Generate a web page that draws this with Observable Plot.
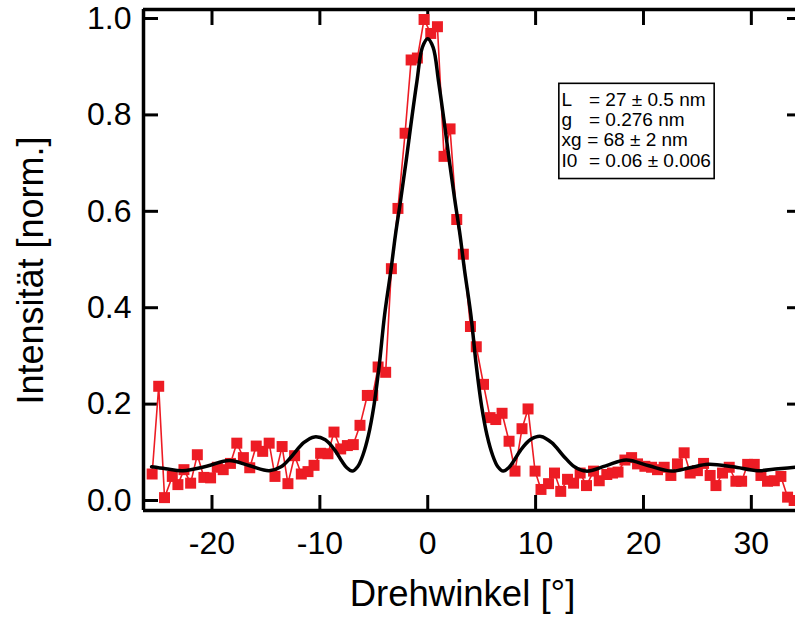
<!DOCTYPE html>
<html>
<head>
<meta charset="utf-8">
<script src="https://cdn.jsdelivr.net/npm/d3@7"></script>
<script src="https://cdn.jsdelivr.net/npm/@observablehq/plot@0.6"></script>
<style>
  html, body { margin: 0; padding: 0; background: #fff; }
  #chart { width: 795px; height: 619px; overflow: hidden; }
</style>
</head>
<body>
<div id="chart"></div>
<script>
// Measured data (angle in degrees, normalised intensity)
const angle = [
  -25.55, -24.94, -24.40, -23.68, -23.16, -22.60, -21.98, -21.36, -20.75, -20.13,
  -19.51, -18.96, -18.29, -17.70, -17.09, -16.50, -15.90, -15.30, -14.70, -14.16,
  -13.50, -12.96, -12.34, -11.72, -11.10, -10.54, -9.93, -9.25, -8.69, -8.07,
  -7.45, -6.90, -6.28, -5.60, -5.10, -4.60, -3.90, -3.37, -2.76, -2.10,
  -1.54, -0.96, -0.34, 0.28, 0.90, 1.51, 2.07, 2.69, 3.30, 3.96,
  4.50, 5.17, 5.78, 6.31, 6.89, 7.54, 8.09, 8.74, 9.30, 9.95,
  10.50, 11.20, 11.75, 12.33, 12.96, 13.52, 14.13, 14.72, 15.37, 15.90,
  16.60, 17.13, 17.64, 18.28, 18.90, 19.45, 20.13, 20.75, 21.30, 21.92,
  22.54, 23.15, 23.77, 24.33, 25.00, 25.57, 26.18, 26.72, 27.33, 27.95,
  28.57, 29.10, 29.66, 30.27, 30.89, 31.50, 32.13, 32.74, 33.36, 33.97
];
const intensity = [
  0.055, 0.237, 0.006, 0.050, 0.033, 0.064, 0.036, 0.095, 0.048, 0.047,
  0.069, 0.064, 0.077, 0.119, 0.089, 0.068, 0.113, 0.102, 0.119, 0.050,
  0.112, 0.035, 0.093, 0.055, 0.060, 0.073, 0.098, 0.097, 0.142, 0.107,
  0.114, 0.116, 0.156, 0.218, 0.218, 0.277, 0.266, 0.481, 0.606, 0.762,
  0.914, 0.918, 0.998, 0.969, 0.983, 0.714, 0.771, 0.583, 0.511, 0.361,
  0.319, 0.241, 0.172, 0.168, 0.181, 0.123, 0.061, 0.149, 0.190, 0.061,
  0.023, 0.035, 0.057, 0.019, 0.044, 0.036, 0.057, 0.031, 0.061, 0.041,
  0.054, 0.057, 0.059, 0.084, 0.089, 0.076, 0.071, 0.069, 0.064, 0.069,
  0.052, 0.076, 0.099, 0.057, 0.062, 0.077, 0.052, 0.031, 0.057, 0.069,
  0.040, 0.040, 0.075, 0.075, 0.052, 0.040, 0.041, 0.050, 0.007, 0.000
];

// Fit curve
const fitAngle = [
  -25.6, -24.3, -22.7, -20.5, -18.4, -16.5, -14.7, -13.6, -12.6, -11.5,
  -10.5, -9.5, -8.6, -8.0, -7.5, -7.0, -6.5, -6.0, -5.5, -5.0,
  -4.5, -4.0, -3.4, -3.0, -2.5, -2.0, -1.5, -1.0, -0.5, 0.0,
  0.5, 1.0, 1.5, 2.0, 2.5, 3.0, 3.4, 4.0, 4.5, 5.0,
  5.5, 6.0, 6.5, 7.0, 7.5, 8.0, 8.6, 9.5, 10.5, 11.5,
  12.6, 13.6, 14.7, 16.5, 18.4, 20.5, 22.6, 24.3, 26.0, 28.3,
  30.6, 32.5, 34.6
];
const fitIntensity = [
  0.070, 0.066, 0.062, 0.071, 0.083, 0.072, 0.062, 0.070, 0.092, 0.120,
  0.132, 0.126, 0.104, 0.083, 0.068, 0.061, 0.070, 0.095, 0.135, 0.195,
  0.280, 0.385, 0.480, 0.550, 0.625, 0.705, 0.790, 0.870, 0.940, 0.958,
  0.940, 0.870, 0.790, 0.705, 0.625, 0.550, 0.480, 0.385, 0.280, 0.195,
  0.135, 0.095, 0.070, 0.061, 0.068, 0.083, 0.104, 0.126, 0.133, 0.120,
  0.092, 0.070, 0.061, 0.072, 0.084, 0.072, 0.061, 0.068, 0.075, 0.070,
  0.062, 0.066, 0.070
];

const xTicks = [-20, -10, 0, 10, 20, 30];
const yTicks = [0, 0.2, 0.4, 0.6, 0.8, 1.0];
const xTitle = "Drehwinkel [°]";
const yTitle = "Intensität [norm.]";
const legendLabels = ["L", "g", "xg", "I0"];
const legendValues = ["= 27 ± 0.5 nm", "= 0.276 nm", "= 68 ± 2 nm", "= 0.06 ± 0.006"];

const measured = angle.map((a, i) => ({a, v: intensity[i]}));
const fit = fitAngle.map((a, i) => ({a, v: fitIntensity[i]}));

const xDom = [-26.35, 34.65];
const yDom = [-0.0207, 1.0187];
const red = "#ed1c24";
const font = "'Liberation Sans', Arial, Helvetica, sans-serif";

// legend box in data coordinates
const boxX1 = 12.2, boxX2 = 26.6, boxY1 = 0.667, boxY2 = 0.8645;
const lineYs = [0.831, 0.789, 0.748, 0.705];
const legendRows = legendLabels.map((l, i) => ({
  label: l, value: legendValues[i], y: lineYs[i], vx: l === "xg" ? 14.78 : 14.95
}));

const chart = Plot.plot({
  width: 795,
  height: 619,
  marginLeft: 143,
  marginRight: -6,
  marginTop: 9,
  marginBottom: 109,
  style: {fontFamily: font, color: "#000", background: "#fff", overflow: "hidden"},
  x: {domain: xDom, label: null},
  y: {domain: yDom, label: null},
  marks: [
    // inward ticks
    Plot.axisX({anchor: "bottom", ticks: xTicks, tickSize: -15, strokeWidth: 3, tickFormat: () => "", label: null}),
    Plot.axisX({anchor: "top", ticks: xTicks, tickSize: -15, strokeWidth: 3, tickFormat: () => "", label: null}),
    Plot.axisY({anchor: "left", ticks: yTicks, tickSize: -15, strokeWidth: 3, tickFormat: () => "", label: null}),
    Plot.axisY({anchor: "right", ticks: yTicks, tickSize: -15, strokeWidth: 3, tickFormat: () => "", label: null}),
    // tick labels
    Plot.axisX({anchor: "bottom", ticks: xTicks, tickSize: 0, tickPadding: 21, fontSize: 32, tickFormat: d => String(d), label: null}),
    Plot.axisY({anchor: "left", ticks: yTicks, tickSize: 0, tickPadding: 12, fontSize: 32, tickFormat: d => d.toFixed(1), label: null}),
    // frame
    Plot.ruleX([xDom[0]], {stroke: "black", strokeWidth: 3.5}),
    Plot.ruleY([yDom[0], yDom[1]], {stroke: "black", strokeWidth: 3.5}),
    // data
    Plot.line(measured, {x: "a", y: "v", stroke: red, strokeWidth: 1.6}),
    Plot.dot(measured, {x: "a", y: "v", symbol: "square", r: 6.2, fill: red, stroke: "none"}),
    // fit
    Plot.line(fit, {x: "a", y: "v", stroke: "black", strokeWidth: 3.5, curve: "catmull-rom"}),
    // legend box
    Plot.rect([{}], {x1: () => boxX1, x2: () => boxX2, y1: () => boxY1, y2: () => boxY2, fill: "white", stroke: "black", strokeWidth: 1.6}),
    Plot.text(legendRows, {x: () => 12.4, y: "y", text: "label", textAnchor: "start", lineAnchor: "middle", fontSize: 19, fill: "black"}),
    Plot.text(legendRows, {x: "vx", y: "y", text: "value", textAnchor: "start", lineAnchor: "middle", fontSize: 19, fill: "black"}),
    // titles
    Plot.text([xTitle], {frameAnchor: "bottom", dy: 84, dx: -10, fontSize: 36.5, textAnchor: "middle", lineAnchor: "middle", fill: "black"}),
    Plot.text([yTitle], {frameAnchor: "left", dx: -112, dy: 10.5, rotate: -90, fontSize: 36, textAnchor: "middle", lineAnchor: "middle", fill: "black"})
  ]
});
document.getElementById("chart").appendChild(chart);
</script>
</body>
</html>
